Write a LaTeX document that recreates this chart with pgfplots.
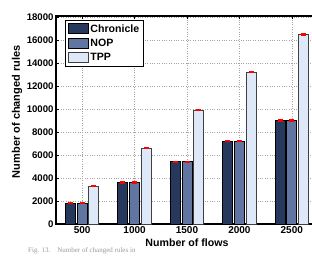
\documentclass[border=0pt]{standalone}
\usepackage{pgfplots}
\pgfplotsset{compat=1.18}
\usepackage{fontspec}
\setmainfont{Liberation Sans}
\newfontfamily\capfont{Liberation Serif}
\definecolor{cchr}{RGB}{38,56,92}
\definecolor{cnop}{RGB}{96,117,160}
\definecolor{ctpp}{RGB}{221,233,248}
\definecolor{cgrid}{RGB}{165,165,165}
\begin{document}
\begin{tikzpicture}
\begin{axis}[
  name=ax,
  at={(0,0)}, anchor=south west,
  scale only axis,
  width=262pt, height=208pt,
  xmin=250, xmax=2750,
  ymin=0, ymax=18100,
  ybar=1.7pt, bar width=10pt,
  xtick={500,1000,1500,2000,2500},
  ytick={0,2000,4000,6000,8000,10000,12000,14000,16000,18000},
  /pgf/number format/assume math mode=true,
  /pgf/number format/1000 sep={},
  scaled y ticks=false,
  xticklabel style={font=\fontsize{10}{12}\selectfont\bfseries, yshift=1pt},
  yticklabel style={font=\fontsize{9.6}{11}\selectfont\bfseries, xshift=1pt},
  xlabel={Number of flows},
  ylabel={Number of changed rules},
  xlabel style={font=\fontsize{10.6}{12}\selectfont\bfseries, at={(axis description cs:0.5,-0.0913)}, anchor=center},
  ylabel style={font=\fontsize{11}{13}\selectfont\bfseries, at={(axis description cs:-0.149,0.54)}, anchor=center},
  grid=major,
  major grid style={cgrid, dotted, line width=0.6pt},
  tick align=inside,
  major tick length=3pt,
  tick style={black, line width=0.6pt},
  axis line style={black, line width=1.2pt},
  legend style={at={(0.035,0.98)}, anchor=north west, draw=black, line width=0.8pt,
    font=\fontsize{10.6}{12}\selectfont\bfseries, inner sep=2pt,
    row sep=1.5pt, cells={anchor=west}},
  legend image code/.code={\draw[#1, line width=0.8pt] (0pt,-4.5pt) rectangle (20pt,5.5pt);},
  error bars/y dir=both, error bars/y explicit,
  error bars/error mark=none,
  error bars/error bar style={red, line width=5pt},
]
\addplot[fill=cchr, draw=black, line width=1pt] coordinates
 {(500,1800) +- (0,100) (1000,3600) +- (0,100) (1500,5400) +- (0,100) (2000,7200) +- (0,100) (2500,9000) +- (0,100)};
\addplot[fill=cnop, draw=black, line width=1pt] coordinates
 {(500,1800) +- (0,100) (1000,3600) +- (0,100) (1500,5400) +- (0,100) (2000,7200) +- (0,100) (2500,9000) +- (0,100)};
\addplot[fill=ctpp, draw=black!75, line width=1pt] coordinates
 {(500,3300) +- (0,100) (1000,6600) +- (0,100) (1500,9900) +- (0,100) (2000,13200) +- (0,100) (2500,16500) +- (0,100)};
\legend{Chronicle,NOP,TPP}
\end{axis}
\node[anchor=south west, text=black!40, font=\capfont\fontsize{7}{8}\selectfont, inner sep=0pt] at (-28pt,-30.5pt) {Fig. 13.\quad Number of changed rules in};
\pgfresetboundingbox
\useasboundingbox (-56pt,-31pt) rectangle (256pt,224pt);
\end{tikzpicture}
\end{document}
